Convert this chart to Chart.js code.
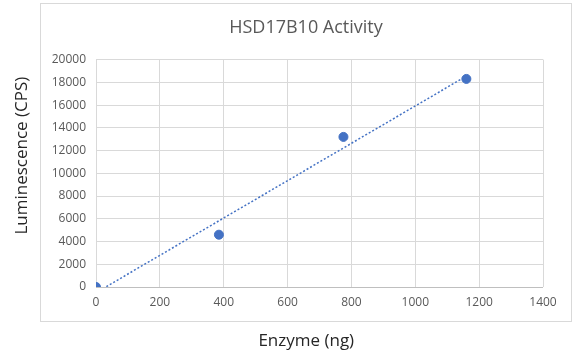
<!DOCTYPE html>
<html>
<head>
<meta charset="utf-8">
<script src="https://cdn.jsdelivr.net/npm/chart.js@4"></script>
<style>
  html, body { margin: 0; padding: 0; background: #fff; }
  #wrap { width: 576px; height: 354px; position: relative; }
</style>
</head>
<body>
<div id="wrap"><canvas id="activityChart" width="576" height="354"></canvas></div>
<script>
// measured points
const enzymeNg = [0, 385, 775, 1160];
const luminescence = [0, 4600, 13200, 18300];

// dotted linear trendline, end points
const trendX = [0, 1160];
const trendY = [-500, 18550];

const xTicks = [0, 200, 400, 600, 800, 1000, 1200, 1400];
const yTicks = [0, 2000, 4000, 6000, 8000, 10000, 12000, 14000, 16000, 18000, 20000];

const blue = '#4472c4';
const gridGrey = '#d9d9d9';
const textGrey = '#595959';
const nb = n => '\u00a0'.repeat(n);

// chart frame drawn behind everything, title centred on the frame
const framePlugin = {
    id: 'frame',
    afterLayout(chart) {
        if (chart.titleBlock) {
            chart.titleBlock.left = 40;
            chart.titleBlock.right = 572;
            chart.titleBlock.width = 532;
        }
    },
    beforeDraw(chart) {
        const ctx = chart.ctx;
        ctx.save();
        ctx.fillStyle = '#fff';
        ctx.fillRect(0, 0, chart.width, chart.height);
        ctx.strokeStyle = '#d9d9d9';
        ctx.lineWidth = 1;
        ctx.strokeRect(40.5, 3.5, 531, 318);
        ctx.restore();
    }
};

document.addEventListener('DOMContentLoaded', function() {
    const ctx = document.getElementById('activityChart').getContext('2d');

    new Chart(ctx, {
        type: 'scatter',
        data: {
            datasets: [{
                label: 'Activity',
                data: enzymeNg.map((x, i) => ({ x: x, y: luminescence[i] })),
                backgroundColor: blue,
                borderColor: blue,
                pointRadius: 4.5,
                pointHoverRadius: 4.5,
                order: 1
            }, {
                type: 'line',
                label: 'Trend',
                data: trendX.map((x, i) => ({ x: x, y: trendY[i] })),
                borderColor: blue,
                borderWidth: 1.5,
                borderDash: [2, 2],
                pointRadius: 0,
                fill: false,
                order: 2
            }]
        },
        options: {
            responsive: false,
            animation: false,
            layout: {
                padding: { top: 17, right: 33, left: 0, bottom: 0 }
            },
            plugins: {
                legend: { display: false },
                tooltip: { enabled: false },
                title: {
                    display: true,
                    text: 'HSD17B10 Activity',
                    color: textGrey,
                    font: { family: 'Open Sans', size: 18, weight: 'normal' },
                    padding: { top: 0, bottom: 21 }
                }
            },
            scales: {
                x: {
                    type: 'linear',
                    min: 0,
                    max: 1400,
                    afterBuildTicks: axis => { axis.ticks = xTicks.map(v => ({ value: v })); },
                    grid: { color: gridGrey, drawTicks: false },
                    border: { display: false },
                    ticks: {
                        color: textGrey,
                        padding: 8,
                        font: { family: 'Open Sans', size: 12 },
                        callback: v => String(v)
                    },
                    title: {
                        display: true,
                        text: 'Enzyme (ng)' + nb(6),
                        color: '#262626',
                        font: { family: 'Open Sans', size: 17 },
                        padding: { top: 14, bottom: 3 }
                    },
                    afterFit: scale => { scale.height = 67; }
                },
                y: {
                    min: 0,
                    max: 20000,
                    afterBuildTicks: axis => { axis.ticks = yTicks.map(v => ({ value: v })); },
                    grid: {
                        color: ctx => ctx.tick && ctx.tick.value === 0 ? '#bfbfbf' : gridGrey,
                        drawTicks: false
                    },
                    border: { display: false },
                    ticks: {
                        color: textGrey,
                        padding: 10,
                        font: { family: 'Open Sans', size: 12 },
                        callback: v => String(v)
                    },
                    title: {
                        display: true,
                        text: nb(8) + 'Luminescence (CPS)',
                        color: '#262626',
                        font: { family: 'Open Sans', size: 17 },
                        padding: { top: 12, bottom: 8 }
                    },
                    afterFit: scale => { scale.width = 96; }
                }
            }
        },
        plugins: [framePlugin]
    });
});
</script>
</body>
</html>
